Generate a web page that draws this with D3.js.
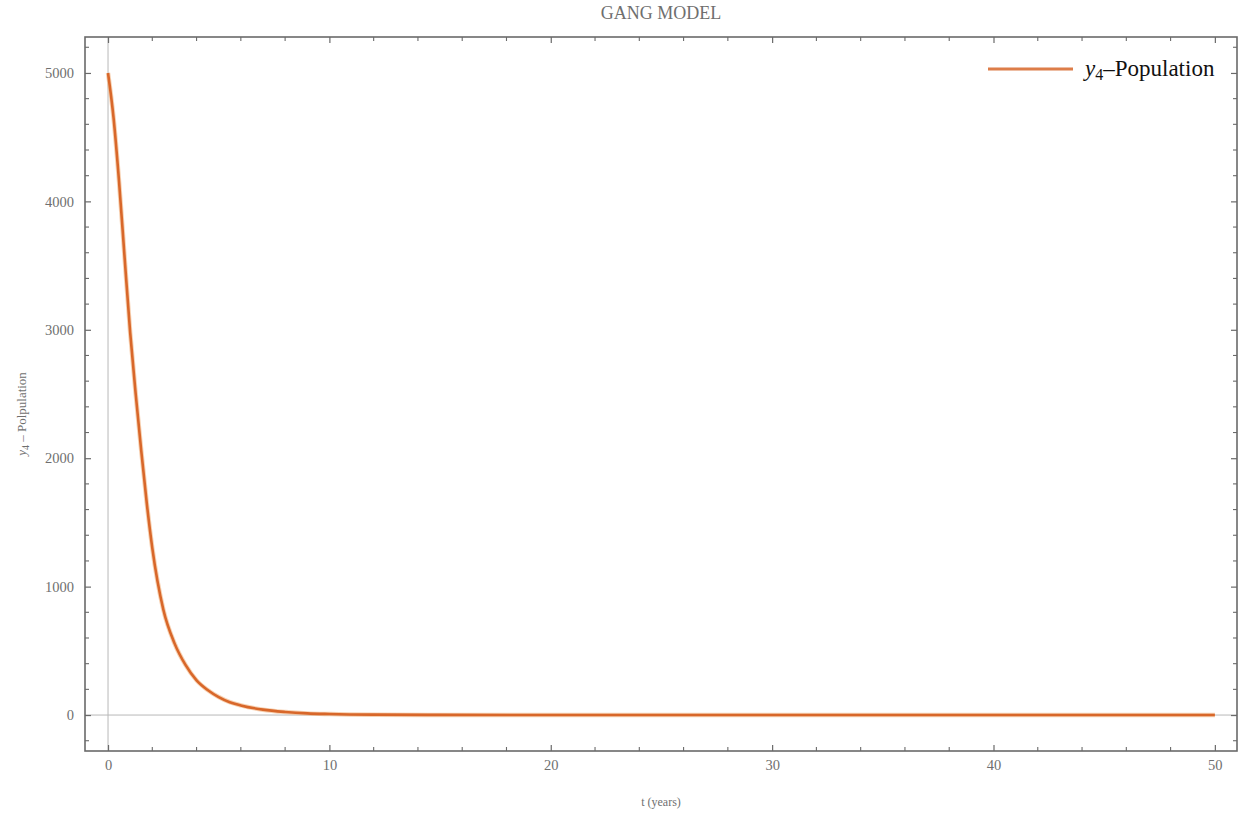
<!DOCTYPE html>
<html>
<head>
<meta charset="utf-8">
<script src="https://cdn.jsdelivr.net/npm/d3@7"></script>
<style>
  body { margin: 0; background: #fff; }
  text { font-family: "Liberation Serif", "DejaVu Serif", serif; }
</style>
</head>
<body>
<svg id="chart"></svg>
<script>
// time points (years) and y4 population
const tValues = [0, 0.25, 0.5, 0.75, 1, 1.25, 1.5, 1.75, 2, 2.5, 3, 3.5, 4, 4.5, 5, 5.5, 6, 7, 8, 9, 10, 12, 15, 20, 30, 40, 50];
const y4Values = [5000, 4650, 4150, 3560, 2980, 2500, 2060, 1650, 1300, 820, 560, 390, 270, 195, 140, 100, 75, 42, 24, 13, 8, 3, 1, 0, 0, 0, 0];

const xMajorTicks = [0, 10, 20, 30, 40, 50];
const yMajorTicks = [0, 1000, 2000, 3000, 4000, 5000];

const chartTitle = 'GANG MODEL';
const xLabel = 't (years)';
const yLabel = 'y4 - Polpulation';

const width = 1241, height = 816;
const margin = { top: 37, right: 4, bottom: 65, left: 85 };

const svg = d3.select('#chart').attr('width', width).attr('height', height);

const x = d3.scaleLinear().domain([-1.04, 51.0]).range([margin.left, width - margin.right]);
const y = d3.scaleLinear().domain([-280, 5280]).range([height - margin.bottom, margin.top]);

const frameColor = '#6a6a6a';
const labelColor = '#6f6f6f';

// axes through origin
svg.append('line')
    .attr('x1', x(0)).attr('x2', x(0))
    .attr('y1', y.range()[1]).attr('y2', y.range()[0])
    .attr('stroke', '#b8b8b8').attr('stroke-width', 1);
svg.append('line')
    .attr('x1', x.range()[0]).attr('x2', x.range()[1])
    .attr('y1', y(0)).attr('y2', y(0))
    .attr('stroke', '#b8b8b8').attr('stroke-width', 1);

// frame ticks on all four sides
const xMinor = d3.range(0, 51, 2).filter(d => !xMajorTicks.includes(d));
const yMinor = d3.range(-200, 5201, 200).filter(d => !yMajorTicks.includes(d));

const bottomAxis = d3.axisBottom(x).tickValues(xMajorTicks).tickSize(-6).tickPadding(9).tickFormat(d3.format('d'));
const topAxis = d3.axisTop(x).tickValues(xMajorTicks).tickSize(-6).tickFormat('');
const leftAxis = d3.axisLeft(y).tickValues(yMajorTicks).tickSize(-6).tickPadding(11).tickFormat(d3.format('d'));
const rightAxis = d3.axisRight(y).tickValues(yMajorTicks).tickSize(-6).tickFormat('');

function styleAxis(g) {
    g.select('.domain').remove();
    g.selectAll('.tick line').attr('stroke', frameColor).attr('stroke-width', 1.2);
    g.selectAll('.tick text').attr('fill', labelColor).style('font-size', '14.5px')
        .style('font-family', '"Liberation Serif", serif');
}

svg.append('g').attr('transform', `translate(0,${y.range()[0]})`).call(bottomAxis).call(styleAxis);
svg.append('g').attr('transform', `translate(0,${y.range()[1]})`).call(topAxis).call(styleAxis);
svg.append('g').attr('transform', `translate(${x.range()[0]},0)`).call(leftAxis).call(styleAxis);
svg.append('g').attr('transform', `translate(${x.range()[1]},0)`).call(rightAxis).call(styleAxis);

// minor ticks
const minorLen = 4;
xMinor.forEach(d => {
    svg.append('line').attr('x1', x(d)).attr('x2', x(d))
        .attr('y1', y.range()[0]).attr('y2', y.range()[0] - minorLen)
        .attr('stroke', frameColor).attr('stroke-width', 1.1);
    svg.append('line').attr('x1', x(d)).attr('x2', x(d))
        .attr('y1', y.range()[1]).attr('y2', y.range()[1] + minorLen)
        .attr('stroke', frameColor).attr('stroke-width', 1.1);
});
yMinor.forEach(d => {
    svg.append('line').attr('x1', x.range()[0]).attr('x2', x.range()[0] + minorLen)
        .attr('y1', y(d)).attr('y2', y(d))
        .attr('stroke', frameColor).attr('stroke-width', 1.1);
    svg.append('line').attr('x1', x.range()[1]).attr('x2', x.range()[1] - minorLen)
        .attr('y1', y(d)).attr('y2', y(d))
        .attr('stroke', frameColor).attr('stroke-width', 1.1);
});

// frame rectangle
svg.append('rect')
    .attr('x', x.range()[0]).attr('y', y.range()[1])
    .attr('width', x.range()[1] - x.range()[0])
    .attr('height', y.range()[0] - y.range()[1])
    .attr('fill', 'none').attr('stroke', frameColor).attr('stroke-width', 1.6);

// the curve
const data = tValues.map((t, i) => ({ t, v: y4Values[i] }));
const line = d3.line().x(d => x(d.t)).y(d => y(d.v)).curve(d3.curveMonotoneX);

svg.append('path').datum(data)
    .attr('d', line)
    .attr('fill', 'none')
    .attr('stroke', '#f2b27e').attr('stroke-width', 4.5).attr('opacity', 0.6);
svg.append('path').datum(data)
    .attr('d', line)
    .attr('fill', 'none')
    .attr('stroke', '#d8672a').attr('stroke-width', 2.6);

// title and axis labels
svg.append('text')
    .attr('x', (x.range()[0] + x.range()[1]) / 2).attr('y', 19)
    .attr('text-anchor', 'middle')
    .attr('fill', labelColor).style('font-size', '18px')
    .text(chartTitle);

svg.append('text')
    .attr('x', (x.range()[0] + x.range()[1]) / 2).attr('y', 806)
    .attr('text-anchor', 'middle')
    .attr('fill', labelColor).style('font-size', '12px')
    .text(xLabel);

const yl = svg.append('text')
    .attr('transform', 'translate(26,414) rotate(-90)')
    .attr('text-anchor', 'middle')
    .attr('fill', labelColor).style('font-size', '13px');
yl.append('tspan').style('font-style', 'italic').text(yLabel.slice(0, 1));
yl.append('tspan').attr('dy', 3).style('font-size', '10px').text(yLabel.slice(1, 2));
yl.append('tspan').attr('dy', -3).text(' ' + yLabel.slice(2).trim().replace('-', '–'));

// legend
svg.append('line')
    .attr('x1', 988).attr('x2', 1073).attr('y1', 69).attr('y2', 69)
    .attr('stroke', '#d8672a').attr('stroke-width', 3).attr('opacity', 0.85);
const lt = svg.append('text')
    .attr('x', 1085).attr('y', 76)
    .attr('fill', '#111').style('font-size', '23px');
lt.append('tspan').style('font-style', 'italic').text('y');
lt.append('tspan').attr('dy', 4).style('font-size', '16px').text('4');
lt.append('tspan').attr('dy', -4).text('–Population');
</script>
</body>
</html>
